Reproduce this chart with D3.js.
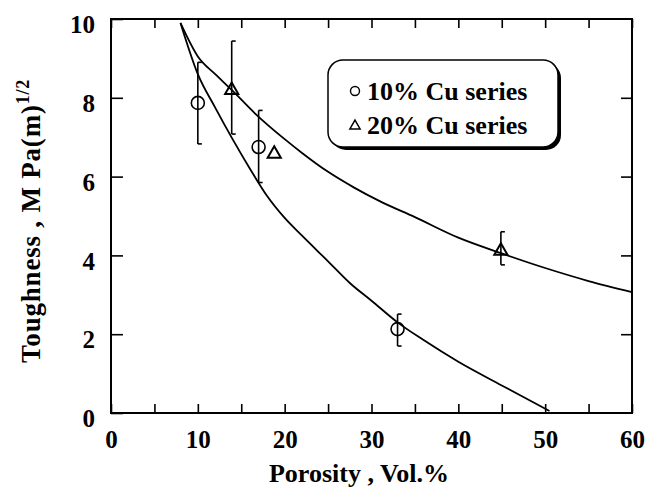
<!DOCTYPE html>
<html><head><meta charset="utf-8">
<script src="https://cdn.jsdelivr.net/npm/d3@7"></script>
<style>body{margin:0;background:#fff}svg{display:block}</style>
</head><body>
<script>
// ---- data ----
const seriesNames = ["10% Cu series", "20% Cu series"];
const cu10X = [10, 17, 33];
const cu10Y = [7.87, 6.75, 2.13];
const cu10Lo = [6.83, 5.85, 1.7];
const cu10Hi = [8.9, 7.68, 2.51];
const cu20X = [13.9, 18.8, 44.9];
const cu20Y = [8.22, 6.6, 4.14];
const cu20Lo = [7.08, null, 3.76];
const cu20Hi = [9.44, null, 4.6];
const fit10X = [8, 10, 12, 14, 16, 18, 20, 22, 25, 27.5, 30, 33, 36, 40, 45, 50.5];
const fit10Y = [9.9, 8.6, 7.75, 6.95, 6.2, 5.5, 4.95, 4.5, 3.85, 3.3, 2.85, 2.3, 1.85, 1.3, 0.7, 0.05];
const fit20X = [8, 10, 12, 13.9, 16.6, 20, 22, 25, 28, 31, 35, 40, 45, 50, 55, 60];
const fit20Y = [9.9, 9.05, 8.6, 8.2, 7.6, 6.95, 6.6, 6.12, 5.72, 5.37, 4.97, 4.45, 4.05, 3.68, 3.35, 3.07];
const xTickValues = [0, 5, 10, 15, 20, 25, 30, 35, 40, 45, 50, 55, 60];
const yTickValues = [0, 2, 4, 6, 8, 10];
const xTitle = "Porosity , Vol.%";
const yTitle = "Toughness , M Pa(m)";
const yTitleSup = "1/2";

// ---- layout ----
const FAM = "Liberation Serif";
const W = 656, H = 487;
const L = 111, R = 632, T = 19, B = 413;
const svg = d3.select("body").append("svg").attr("width", W).attr("height", H);
const x = d3.scaleLinear().domain([0, 60]).range([L, R]);
const y = d3.scaleLinear().domain([0, 10]).range([B, T]);
function txt(sel, size) {
  return sel.attr("font-family", FAM).attr("font-weight", "bold").attr("font-size", size).attr("fill", "#000");
}

const fmtX = d => (d % 10 === 0 ? d : "");
const gb = svg.append("g").attr("transform", `translate(0,${B})`)
  .call(d3.axisBottom(x).tickValues(xTickValues).tickFormat(fmtX).tickSizeInner(-9).tickSizeOuter(0).tickPadding(17));
const gt = svg.append("g").attr("transform", `translate(0,${T})`)
  .call(d3.axisTop(x).tickValues(xTickValues).tickFormat("").tickSizeInner(-9).tickSizeOuter(0));
const gl = svg.append("g").attr("transform", `translate(${L},0)`)
  .call(d3.axisLeft(y).tickValues(yTickValues).tickFormat(d => d).tickSizeInner(-12).tickSizeOuter(0).tickPadding(16));
const gr = svg.append("g").attr("transform", `translate(${R},0)`)
  .call(d3.axisRight(y).tickValues(yTickValues.filter(d => d > 0 && d < 10)).tickFormat("").tickSizeInner(-11).tickSizeOuter(0));
[gb, gt, gl, gr].forEach(g => {
  txt(g, 25);
  g.select(".domain").remove();
  g.selectAll("line").attr("stroke", "#000").attr("stroke-width", 1.6);
  txt(g.selectAll("text"), 25);
});
gl.selectAll("text").attr("dy", "0.55em");

svg.append("rect").attr("x", L).attr("y", T).attr("width", R - L).attr("height", B - T)
  .attr("fill", "none").attr("stroke", "#000").attr("stroke-width", 2);

const line = d3.line().x(d => x(d[0])).y(d => y(d[1])).curve(d3.curveMonotoneX);
svg.append("path").attr("d", line(fit10X.map((v, i) => [v, fit10Y[i]])))
  .attr("fill", "none").attr("stroke", "#000").attr("stroke-width", 1.8);
svg.append("path").attr("d", line(fit20X.map((v, i) => [v, fit20Y[i]])))
  .attr("fill", "none").attr("stroke", "#000").attr("stroke-width", 1.8);

function errBars(X, Lo, Hi) {
  X.forEach((v, i) => {
    if (Lo[i] == null) return;
    const g = svg.append("g").attr("stroke", "#000").attr("stroke-width", 1.6).attr("fill", "none");
    g.append("line").attr("x1", x(v)).attr("x2", x(v)).attr("y1", y(Lo[i])).attr("y2", y(Hi[i]));
    g.append("line").attr("x1", x(v)).attr("x2", x(v) + 4).attr("y1", y(Hi[i])).attr("y2", y(Hi[i]));
    g.append("line").attr("x1", x(v)).attr("x2", x(v) + 4).attr("y1", y(Lo[i])).attr("y2", y(Lo[i]));
  });
}
errBars(cu10X, cu10Lo, cu10Hi);
errBars(cu20X, cu20Lo, cu20Hi);

const tri = d3.symbol().type(d3.symbolTriangle).size(75);
svg.selectAll(".c10").data(cu10X).enter().append("circle")
  .attr("cx", d => x(d)).attr("cy", (d, i) => y(cu10Y[i])).attr("r", 6.5)
  .attr("fill", "none").attr("stroke", "#000").attr("stroke-width", 1.6);
svg.selectAll(".c20").data(cu20X).enter().append("path")
  .attr("d", tri).attr("transform", (d, i) => `translate(${x(d)},${y(cu20Y[i]) + 1})`)
  .attr("fill", "none").attr("stroke", "#000").attr("stroke-width", 2);

// legend
const lg = svg.append("g");
lg.append("rect").attr("x", 331).attr("y", 63).attr("width", 230).attr("height", 87).attr("rx", 15)
  .attr("fill", "#000");
lg.append("rect").attr("x", 328).attr("y", 60).attr("width", 230).attr("height", 87).attr("rx", 15)
  .attr("fill", "#fff").attr("stroke", "#000").attr("stroke-width", 1.5);
lg.append("circle").attr("cx", 355).attr("cy", 91).attr("r", 4.5)
  .attr("fill", "none").attr("stroke", "#000").attr("stroke-width", 1.4);
lg.append("path").attr("d", d3.symbol().type(d3.symbolTriangle).size(45)).attr("transform", "translate(355,126)")
  .attr("fill", "none").attr("stroke", "#000").attr("stroke-width", 1.5);
txt(lg.append("text").attr("x", 367).attr("y", 100), 26).text(seriesNames[0]);
txt(lg.append("text").attr("x", 367).attr("y", 134), 26).text(seriesNames[1]);

// titles
txt(svg.append("text").attr("x", 359).attr("y", 482).attr("text-anchor", "middle"), 26).text(xTitle);
const yt = txt(svg.append("text").attr("transform", "translate(40,363) rotate(-90)"), 27)
  .attr("letter-spacing", 0.8);
yt.append("tspan").text(yTitle);
yt.append("tspan").attr("font-size", 18).attr("dy", -11).text(yTitleSup);
</script>
</body></html>
